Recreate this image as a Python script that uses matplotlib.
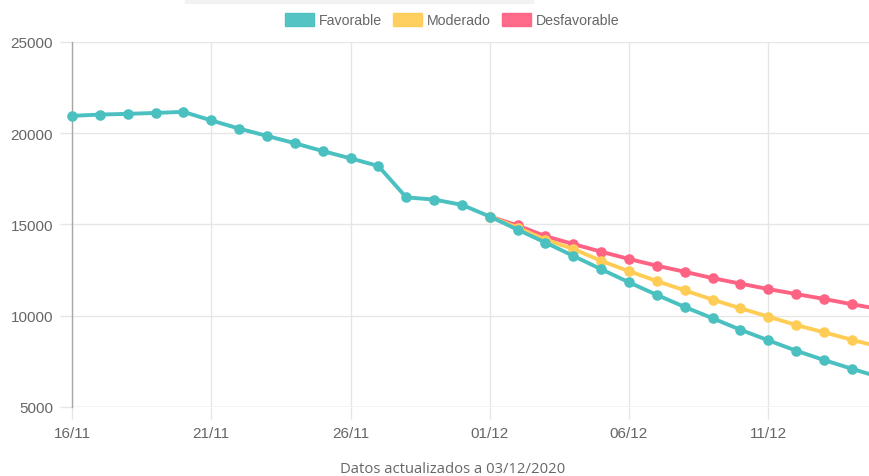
import matplotlib
matplotlib.use("Agg")
import matplotlib.pyplot as plt
from matplotlib.patches import Patch, Rectangle

plt.rcParams['font.family'] = ['Liberation Sans', 'DejaVu Sans']

# dates shown on the x axis (one point per day)
dates = ["16/11", "17/11", "18/11", "19/11", "20/11", "21/11", "22/11", "23/11",
         "24/11", "25/11", "26/11", "27/11", "28/11", "29/11", "30/11",
         "01/12", "02/12", "03/12", "04/12", "05/12", "06/12", "07/12", "08/12",
         "09/12", "10/12", "11/12", "12/12", "13/12", "14/12", "15/12"]

favorable = [20950, 21020, 21060, 21110, 21170, 20700, 20250, 19850, 19450, 19020,
             18620, 18200, 16480, 16360, 16070, 15430, 14710, 14000, 13270, 12540,
             11820, 11130, 10470, 9850, 9220, 8640, 8070, 7560, 7080, 6620]
# scenarios start at 01/12
moderado = [15430, 14820, 14160, 13650, 13000, 12430, 11890, 11380, 10870, 10400,
            9940, 9480, 9080, 8670, 8280]
desfavorable = [15430, 14940, 14350, 13920, 13500, 13100, 12730, 12400, 12050, 11750,
                11450, 11180, 10910, 10620, 10350]

labels = ["Favorable", "Moderado", "Desfavorable"]
colors = ["#4bc0c0", "#ffcd56", "#ff6384"]

W, H = 869, 477
fig = plt.figure(figsize=(W / 100, H / 100), dpi=100)
ax = fig.add_axes([72 / W, (H - 407.7) / H, (W - 72) / W, (407.7 - 43) / H])

x_all = list(range(len(dates)))
start = dates.index("01/12")
x_proj = x_all[start:start + len(moderado)]

line_kw = dict(lw=2.8, marker="o", ms=6.6, clip_on=False)
ax.plot(x_proj, desfavorable, color=colors[2], zorder=3, **line_kw)
ax.plot(x_proj, moderado, color=colors[1], zorder=4, **line_kw)
ax.plot(x_all, favorable, color=colors[0], zorder=5, **line_kw)

ax.set_xlim(0, (W - 72) / 27.85)
ax.set_ylim(5000, 25000)
ax.set_yticks([5000, 10000, 15000, 20000, 25000])
ax.set_xticks(x_all[::5])
ax.set_xticklabels(dates[::5])

ax.grid(True, color="#e6e6e6", lw=1, zorder=0)
for s in ["top", "right", "bottom"]:
    ax.spines[s].set_visible(False)
ax.spines["left"].set_color("#a8a8a8")
ax.spines["left"].set_linewidth(1)
ax.axhline(5000, color="#e0e0e0", lw=1, zorder=1)
ax.tick_params(axis="both", length=8.6, width=1, color="#e6e6e6",
               labelcolor="#666666", labelsize=11, pad=5)

# legend at top
handles = [Patch(facecolor=c, edgecolor=c, alpha=0.95) for c in colors]
fig.legend(handles, labels, loc="center", bbox_to_anchor=(452 / W, 1 - 21 / H),
           ncol=3, frameon=False, fontsize=10.2, labelcolor="#666666",
           handlelength=2.05, handleheight=1.1, handletextpad=0.35, columnspacing=0.78)

# grey strip cut off at the top of the screenshot
fig.patches.append(Rectangle((185 / W, 1 - 4 / H), (533 - 185) / W, 4 / H,
                             transform=fig.transFigure, color="#f2f2f2", zorder=0))

fig.text(453 / W, 1 - 470 / H, "Datos actualizados a 03/12/2020", ha="center",
         va="center", fontsize=10.7, color="#666666", family=["Open Sans", "DejaVu Sans"])

fig.savefig("out.png", dpi=100)
